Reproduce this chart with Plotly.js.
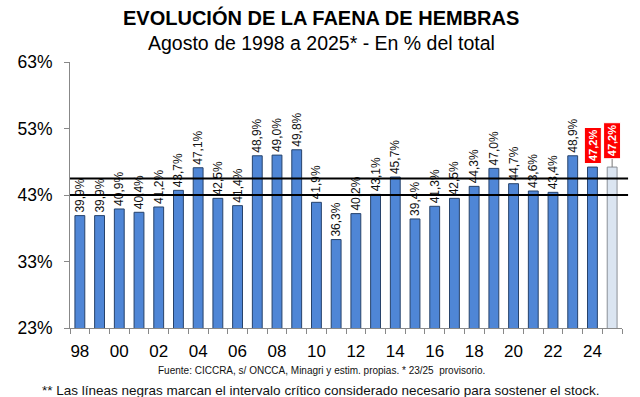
<!DOCTYPE html>
<html><head><meta charset="utf-8">
<script src="https://cdn.plot.ly/plotly-3.0.1.min.js"></script>
<style>html,body{margin:0;padding:0;background:#fff}#chart{width:640px;height:397px}</style>
</head><body><div id="chart"></div>
<script>
const years = [1998,1999,2000,2001,2002,2003,2004,2005,2006,2007,2008,2009,2010,2011,2012,2013,2014,2015,2016,2017,2018,2019,2020,2021,2022,2023,2024,2025];
const values = [39.9,39.9,40.9,40.4,41.2,43.7,47.1,42.5,41.4,48.9,49.0,49.8,41.9,36.3,40.2,43.1,45.7,39.4,41.3,42.5,44.3,47.0,44.7,43.6,43.4,48.9,47.2,47.2];
const highlightYears = [2024,2025];
const tickYears = [1998,2000,2002,2004,2006,2008,2010,2012,2014,2016,2018,2020,2022,2024];
const tickLabels = ['98','00','02','04','06','08','10','12','14','16','18','20','22','24'];
const criticalLines = [43,45.5];

const fmt = v => v.toFixed(1).replace('.', ',') + '%';
const fillColors = years.map(y => y===2025 ? '#dbe5f1' : '#4f86d6');
const lineColors = years.map(y => y===2025 ? '#8a8f96' : '#27436b');
const texts = years.map((y,i) => highlightYears.includes(y) ? '' : fmt(values[i]));

const trace = {
  type:'bar', x:years, y:values, text:texts, textposition:'outside', textangle:-90,
  cliponaxis:false, constraintext:'none',
  textfont:{family:'Liberation Sans, Arial, sans-serif', size:12, color:'#111'},
  marker:{color:fillColors, line:{color:lineColors, width:1}},
  width:0.5, hoverinfo:'skip'
};

const annotations = highlightYears.map(y => {
  const i = years.indexOf(y);
  const base = {x:y, y:values[i], xref:'x', yref:'y', text:'<b>'+fmt(values[i])+'</b>', textangle:-90,
    font:{family:'Liberation Sans, Arial, sans-serif', size:11, color:'#fff'}, bgcolor:'#ff0000',
    bordercolor:'#ffffff', borderwidth:1, borderpad:2};
  if (y===2025) return Object.assign(base,{showarrow:true, arrowhead:0, arrowwidth:1, arrowcolor:'#777', ax:0, ay:-26, axref:'pixel', ayref:'pixel'});
  return Object.assign(base,{showarrow:false, yanchor:'bottom', yshift:3});
});
const baseFont = 'Liberation Sans, Arial, sans-serif';
annotations.push({xref:'paper', yref:'paper', x:0.455, y:1.168, xanchor:'center', yanchor:'middle', showarrow:false,
  text:'<b>EVOLUCIÓN DE LA FAENA DE HEMBRAS</b>', font:{family:baseFont, size:20, color:'#000'}});
annotations.push({xref:'paper', yref:'paper', x:0.455, y:1.073, xanchor:'center', yanchor:'middle', showarrow:false,
  text:'Agosto de 1998 a 2025* - En % del total', font:{family:baseFont, size:19.5, color:'#000'}});
annotations.push({xref:'paper', yref:'paper', x:0.455, y:-0.158, xanchor:'center', yanchor:'middle', showarrow:false,
  text:'Fuente: CICCRA, s/ ONCCA, Minagri y estim. propias. * 23/25  provisorio.', font:{family:baseFont, size:10, color:'#111'}});
annotations.push({xref:'paper', yref:'paper', x:0.455, y:-0.235, xanchor:'center', yanchor:'middle', showarrow:false,
  text:'** Las líneas negras marcan el intervalo crítico considerado necesario para sostener el stock.', font:{family:baseFont, size:13.5, color:'#111'}});

const shapes = criticalLines.map(v => ({type:'line', xref:'paper', yref:'y', x0:0, x1:1.011, y0:v, y1:v,
  line:{color:'#000', width:2}, layer:'above'}));

const layout = {
  width:640, height:397, margin:{l:70, r:18, t:62, b:69},
  paper_bgcolor:'#fff', plot_bgcolor:'#fff', showlegend:false,
  xaxis:{range:[1997.5,2025.5], tickmode:'array', tickvals:tickYears, ticktext:tickLabels, ticks:'',
    showline:true, linecolor:'#888', linewidth:1, showgrid:false, zeroline:false, ticklabelstandoff:8,
    tickfont:{family:baseFont, size:17, color:'#000'},
    minor:{tick0:1997.5, dtick:1, ticks:'outside', ticklen:5, tickcolor:'#888', showgrid:false}},
  yaxis:{range:[23,63], dtick:10, tick0:23, ticksuffix:'%', ticks:'outside', ticklen:5, tickcolor:'#888',
    showline:true, linecolor:'#888', linewidth:1, showgrid:false, zeroline:false, ticklabelstandoff:8,
    tickfont:{family:baseFont, size:17.5, color:'#000'}},
  annotations:annotations, shapes:shapes, bargap:0.5
};
Plotly.newPlot('chart',[trace],layout,{displayModeBar:false, staticPlot:true});
</script></body></html>
